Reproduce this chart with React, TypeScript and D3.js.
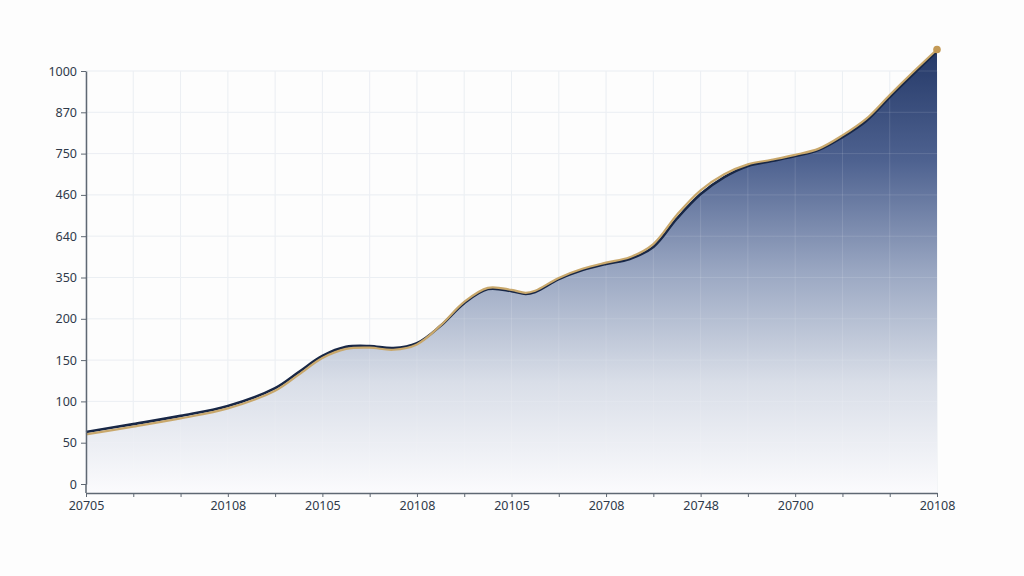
import { useEffect, useRef } from "react"
import * as d3 from "d3"

// x positions are in tick-index units (19 ticks, 0..18)
const xPositions = [
  0, 1, 2, 3, 4, 4.5, 5, 5.5, 6, 6.5, 7, 7.5, 8, 8.5, 9, 9.3, 9.5, 10, 10.5, 11, 11.5, 12, 12.5, 13, 13.5, 14, 14.5,
  15, 15.5, 16, 16.5, 17, 17.5, 18,
]
const navyValues = [
  126, 145, 165, 189, 232, 271, 310, 332, 334, 329, 341, 383, 438, 472, 467, 460, 465, 496, 518, 533, 545, 574, 643,
  702, 743, 770, 782, 794, 809, 840, 879, 937, 993, 1048,
]
const goldValues = [
  120, 139, 159, 183, 226, 265, 305, 327, 330, 325, 338, 384, 441, 475, 470, 463, 468, 499, 521, 536, 549, 581, 652,
  711, 750, 774, 785, 797, 812, 844, 884, 942, 998, 1052,
]
const yTickValues = [0, 100, 200, 300, 400, 500, 600, 700, 800, 900, 1000]
const yTickLabels = ["0", "50", "100", "150", "200", "350", "640", "460", "750", "870", "1000"]
const xTickIndex = [0, 3, 5, 7, 9, 11, 13, 15, 18]
const xTickLabels = ["20705", "20108", "20105", "20108", "20105", "20708", "20748", "20700", "20108"]

const WIDTH = 1024
const HEIGHT = 576
const FONT = "'Noto Sans', 'Open Sans', sans-serif"

function Chart() {
  const svgRef = useRef<SVGSVGElement>(null)

  useEffect(() => {
    if (!svgRef.current) return
    const svg = d3.select(svgRef.current)
    svg.selectAll("*").remove()

    const left = 86
    const right = 937
    const top = 71
    const zeroY = 484
    const axisY = 493

    const x = d3.scaleLinear().domain([0, 18]).range([left, right])
    const y = d3.scaleLinear().domain([0, 1000]).range([zeroY, top])

    const navy = xPositions.map((p, i) => ({ x: p, v: navyValues[i] }))
    const gold = xPositions.map((p, i) => ({ x: p, v: goldValues[i] }))

    svg.append("rect").attr("width", WIDTH).attr("height", HEIGHT).attr("fill", "#fdfdfd")

    const defs = svg.append("defs")
    const grad = defs
      .append("linearGradient")
      .attr("id", "areaFill")
      .attr("gradientUnits", "userSpaceOnUse")
      .attr("x1", 0)
      .attr("x2", 0)
      .attr("y1", y(1050))
      .attr("y2", axisY)
    grad.append("stop").attr("offset", "0%").attr("stop-color", "#253968")
    grad.append("stop").attr("offset", "25%").attr("stop-color", "#4e6290")
    grad.append("stop").attr("offset", "50%").attr("stop-color", "#9aa7c2")
    grad.append("stop").attr("offset", "75%").attr("stop-color", "#d9dee8")
    grad.append("stop").attr("offset", "100%").attr("stop-color", "#fbfbfd")

    // grid
    const grid = svg.append("g").attr("stroke", "#e9edf2").attr("stroke-width", 1)
    d3.range(0, 19).forEach((i) => {
      grid.append("line").attr("x1", x(i)).attr("x2", x(i)).attr("y1", top).attr("y2", axisY)
    })
    yTickValues.forEach((t) => {
      grid.append("line").attr("x1", left).attr("x2", right).attr("y1", y(t)).attr("y2", y(t))
    })

    const curve = d3.curveCatmullRom.alpha(0.5)

    // area
    const area = d3
      .area<{ x: number; v: number }>()
      .x((d) => x(d.x))
      .y0(axisY)
      .y1((d) => y(d.v))
      .curve(curve)
    svg.append("path").datum(navy).attr("fill", "url(#areaFill)").attr("d", area)

    // faint grid showing through the fill
    const grid2 = svg.append("g").attr("stroke", "#ffffff").attr("stroke-opacity", 0.12)
    d3.range(1, 18).forEach((i) => {
      grid2.append("line").attr("x1", x(i)).attr("x2", x(i)).attr("y1", top).attr("y2", axisY)
    })
    yTickValues.slice(1).forEach((t) => {
      grid2.append("line").attr("x1", left).attr("x2", right).attr("y1", y(t)).attr("y2", y(t))
    })

    const line = d3
      .line<{ x: number; v: number }>()
      .x((d) => x(d.x))
      .y((d) => y(d.v))
      .curve(curve)

    svg
      .append("path")
      .datum(navy)
      .attr("fill", "none")
      .attr("stroke", "#182746")
      .attr("stroke-width", 2.6)
      .attr("d", line)
    svg
      .append("path")
      .datum(gold)
      .attr("fill", "none")
      .attr("stroke", "#c9a86c")
      .attr("stroke-width", 2.2)
      .attr("d", line)

    const last = gold[gold.length - 1]
    svg.append("circle").attr("cx", x(last.x)).attr("cy", y(last.v)).attr("r", 3.8).attr("fill", "#c49a56")

    // Y axis
    const yAxis = svg
      .append("g")
      .attr("transform", `translate(${left},0)`)
      .call(
        d3
          .axisLeft(y)
          .tickValues(yTickValues)
          .tickSize(5)
          .tickSizeOuter(0)
          .tickFormat((_, i) => yTickLabels[i]),
      )
    yAxis.select(".domain").attr("stroke", "#5f6873").attr("stroke-width", 1.5)
    yAxis.selectAll(".tick line").attr("stroke", "#5f6873")
    yAxis
      .selectAll("text")
      .attr("fill", "#2f3a4a")
      .attr("font-size", 12.5)
      .attr("font-family", FONT)
      .attr("x", -9)

    svg
      .append("line")
      .attr("x1", left)
      .attr("x2", left)
      .attr("y1", zeroY)
      .attr("y2", axisY)
      .attr("stroke", "#5f6873")
      .attr("stroke-width", 1.5)

    // X axis
    const xAxis = svg
      .append("g")
      .attr("transform", `translate(0,${axisY})`)
      .call(
        d3
          .axisBottom(x)
          .tickValues(d3.range(0, 19))
          .tickSize(4)
          .tickSizeOuter(0)
          .tickFormat((d) => {
            const k = xTickIndex.indexOf(d as number)
            return k >= 0 ? xTickLabels[k] : ""
          }),
      )
    xAxis.select(".domain").attr("stroke", "#5f6873").attr("stroke-width", 1.5)
    xAxis.selectAll(".tick line").attr("stroke", "#5f6873")
    xAxis
      .selectAll("text")
      .attr("fill", "#2f3a4a")
      .attr("font-size", 12.5)
      .attr("font-family", FONT)
      .attr("y", 8)
  }, [])

  return <svg ref={svgRef} width={WIDTH} height={HEIGHT} style={{ display: "block" }} />
}

export default function App() {
  return (
    <div style={{ position: "fixed", left: 0, top: 0, width: WIDTH, height: HEIGHT, background: "#fdfdfd" }}>
      <Chart />
    </div>
  )
}
